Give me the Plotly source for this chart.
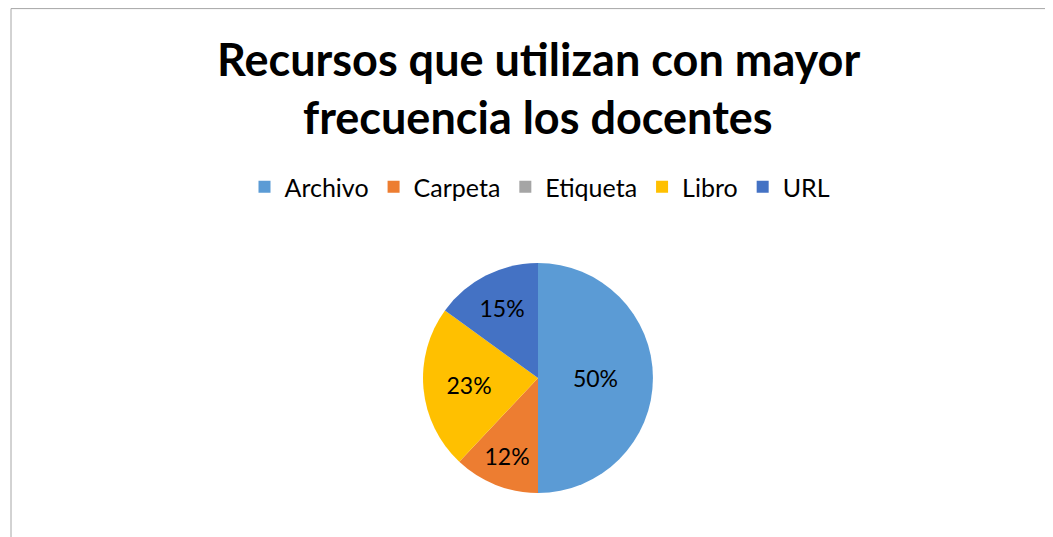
import plotly.graph_objects as go

categories = ["Archivo", "Carpeta", "Etiqueta", "Libro", "URL"]
values = [50, 12, 0, 23, 15]
colors = ["#5B9BD5", "#ED7D31", "#A5A5A5", "#FFC000", "#4472C4"]

# page body has an 8px default margin; figure is sized/positioned to compensate
OFF = 8
W, H = 1053 - OFF, 537 - OFF
cx, cy, r = 538 - OFF, 378 - OFF, 115


def px(x):
    return (x - OFF) / W


def py(y):
    return 1 - (y - OFF) / H


labels_text = [f"{v}%" if v else "" for v in values]

fig = go.Figure(go.Pie(
    labels=categories,
    values=values,
    marker=dict(colors=colors, line=dict(width=0)),
    sort=False,
    direction="clockwise",
    rotation=0,
    text=labels_text,
    texttemplate="%{text}",
    textposition="inside",
    insidetextorientation="horizontal",
    textfont=dict(family="Lato, sans-serif", size=23, color="#000000"),
    hoverinfo="skip",
    domain=dict(x=[(cx - r) / W, (cx + r) / W], y=[(H - cy - r) / H, (H - cy + r) / H]),
))

fig.add_shape(type="rect", xref="paper", yref="paper",
              x0=px(11), x1=1.02, y0=-0.02, y1=py(8.6),
              line=dict(color="#A6A6A6", width=1), fillcolor="rgba(0,0,0,0)")

fig.add_annotation(text="<b>Recursos que utilizan con mayor</b>", x=px(538), y=py(59),
                   xref="paper", yref="paper", showarrow=False, xanchor="center", yanchor="middle",
                   font=dict(family="Lato, sans-serif", size=45, color="#000000"))
fig.add_annotation(text="<b>frecuencia los docentes</b>", x=px(538), y=py(117),
                   xref="paper", yref="paper", showarrow=False, xanchor="center", yanchor="middle",
                   font=dict(family="Lato, sans-serif", size=45, color="#000000"))

fig.update_layout(
    width=W, height=H,
    margin=dict(l=0, r=0, t=0, b=0),
    paper_bgcolor="white",
    plot_bgcolor="white",
    showlegend=True,
    legend=dict(orientation="h", x=px(540), xanchor="center", y=py(187), yanchor="middle",
                font=dict(family="Lato, sans-serif", size=25, color="#000000"),
                itemwidth=30, traceorder="normal"),
)

fig.write_html("out.html")
